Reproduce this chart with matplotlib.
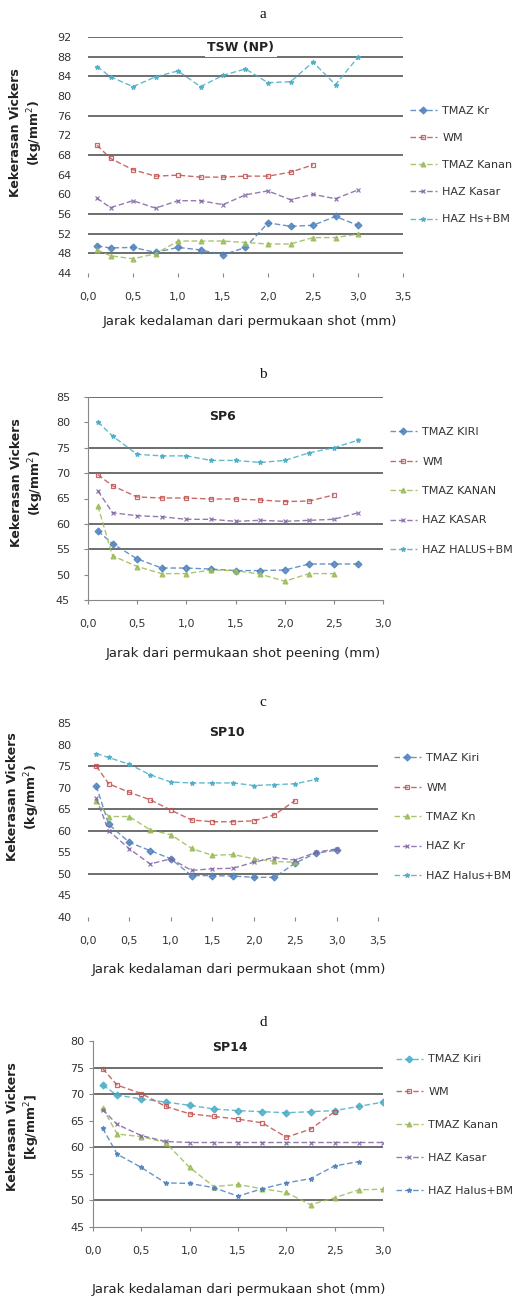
import matplotlib
matplotlib.use("Agg")
import matplotlib.pyplot as plt

# ---------------- data ----------------
x_full = [0.1, 0.25, 0.5, 0.75, 1.0, 1.25, 1.5, 1.75, 2.0, 2.25, 2.5, 2.75, 3.0]

# Panel a : TSW (NP)
a_labels = ["TMAZ Kr", "WM", "TMAZ Kanan", "HAZ Kasar", "HAZ Hs+BM"]
a_tmaz_kiri = [49.5, 49.1, 49.2, 48.2, 49.2, 48.7, 47.7, 49.2, 54.2, 53.5, 53.7, 55.5, 53.7]
a_wm = [70.0, 67.3, 65.0, 63.7, 63.9, 63.5, 63.5, 63.7, 63.7, 64.5, 66.0]
a_tmaz_kanan = [48.7, 47.5, 46.9, 47.9, 50.5, 50.5, 50.5, 50.2, 49.9, 49.9, 51.2, 51.2, 51.9]
a_haz_kasar = [59.2, 57.3, 58.7, 57.2, 58.7, 58.7, 57.9, 59.9, 60.7, 58.9, 60.0, 59.1, 60.9]
a_haz_halus = [86.0, 83.9, 81.9, 83.9, 85.1, 81.9, 84.2, 85.5, 82.7, 82.9, 86.9, 82.3, 87.9]

# Panel b : SP6
b_labels = ["TMAZ KIRI", "WM", "TMAZ KANAN", "HAZ KASAR", "HAZ HALUS+BM"]
b_tmaz_kiri = [58.6, 56.1, 53.1, 51.3, 51.3, 51.1, 50.8, 50.8, 50.9, 52.1, 52.1, 52.1]
b_wm = [69.7, 67.5, 65.3, 65.1, 65.1, 64.9, 64.9, 64.7, 64.4, 64.5, 65.7]
b_tmaz_kanan = [63.5, 53.7, 51.6, 50.2, 50.2, 50.9, 50.8, 50.1, 48.7, 50.2, 50.2]
b_haz_kasar = [66.5, 62.2, 61.6, 61.4, 60.9, 60.9, 60.5, 60.7, 60.5, 60.7, 60.9, 62.2]
b_haz_halus = [80.1, 77.3, 73.7, 73.4, 73.4, 72.5, 72.5, 72.1, 72.5, 74.0, 75.0, 76.5]

# Panel c : SP10
c_labels = ["TMAZ Kiri", "WM", "TMAZ Kn", "HAZ Kr", "HAZ Halus+BM"]
c_tmaz_kiri = [70.4, 61.5, 57.3, 55.4, 53.5, 49.6, 49.6, 49.5, 49.2, 49.2, 52.5, 54.8, 55.5]
c_wm = [75.0, 70.9, 68.9, 67.2, 64.8, 62.5, 62.1, 62.1, 62.3, 63.7, 67.0]
c_tmaz_kanan = [67.0, 63.3, 63.3, 60.2, 59.1, 55.9, 54.3, 54.5, 53.5, 52.9, 52.7]
c_haz_kasar = [67.5, 60.0, 55.8, 52.3, 53.5, 50.8, 51.2, 51.3, 52.7, 53.8, 53.2, 55.0, 55.8]
c_haz_halus = [77.9, 77.0, 75.4, 73.0, 71.3, 71.1, 71.1, 71.1, 70.5, 70.7, 70.9, 71.9]

# Panel d : SP14
d_labels = ["TMAZ Kiri", "WM", "TMAZ Kanan", "HAZ Kasar", "HAZ Halus+BM"]
d_tmaz_kiri = [71.7, 69.8, 69.1, 68.5, 67.9, 67.2, 66.9, 66.7, 66.5, 66.7, 66.9, 67.7, 68.5]
d_wm = [74.8, 71.7, 70.1, 67.7, 66.3, 65.8, 65.3, 64.6, 61.9, 63.4, 66.7]
d_tmaz_kanan = [67.4, 62.5, 62.0, 60.9, 56.2, 52.6, 53.0, 52.2, 51.5, 49.2, 50.5, 52.0, 52.1]
d_haz_kasar = [67.1, 64.3, 62.2, 61.1, 60.9, 60.9, 60.9, 60.9, 60.9, 60.9, 60.9, 60.9, 60.9]
d_haz_halus = [63.6, 58.7, 56.2, 53.3, 53.2, 52.4, 50.8, 52.2, 53.3, 54.1, 56.5, 57.3]

titles = ["TSW (NP)", "SP6", "SP10", "SP14"]
panel_letters = ["a", "b", "c", "d"]
xlabels = ["Jarak kedalaman dari permukaan shot (mm)",
           "Jarak dari permukaan shot peening (mm)",
           "Jarak kedalaman dari permukaan shot (mm)",
           "Jarak kedalaman dari permukaan shot (mm)"]
ylabels = ["Kekerasan Vickers\n(kg/mm$^2$)", "Kekerasan Vickers\n(kg/mm$^2$)",
           "Kekerasan Vickers\n(kg/mm$^2$)", "Kekerasan Vickers\n[kg/mm$^2$]"]
a_yticks = [44, 48, 52, 56, 60, 64, 68, 72, 76, 80, 84, 88, 92]
b_yticks = [45, 50, 55, 60, 65, 70, 75, 80, 85]
c_yticks = [40, 45, 50, 55, 60, 65, 70, 75, 80, 85]
d_yticks = [45, 50, 55, 60, 65, 70, 75, 80]
a_xticks = [0.0, 0.5, 1.0, 1.5, 2.0, 2.5, 3.0, 3.5]
b_xticks = [0.0, 0.5, 1.0, 1.5, 2.0, 2.5, 3.0]
c_xticks = [0.0, 0.5, 1.0, 1.5, 2.0, 2.5, 3.0, 3.5]
d_xticks = [0.0, 0.5, 1.0, 1.5, 2.0, 2.5, 3.0]

# ---------------- style ----------------
BLUE, RED, GREEN, PURPLE, CYAN = "#4F81BD", "#C0504D", "#9BBB59", "#8064A2", "#4BACC6"
markers = ["D", "s", "^", "x", "*"]
W, H = 532, 1302

panels = [
    dict(series=[a_tmaz_kiri, a_wm, a_tmaz_kanan, a_haz_kasar, a_haz_halus], labels=a_labels,
         colors=[BLUE, RED, GREEN, PURPLE, CYAN],
         yticks=a_yticks, xticks=a_xticks, grid=[92, 88, 84, 76, 68, 56, 52, 48],
         rect=(88, 403, 37, 273), spines=False, title_xy=(1.7, 89.8), ypad=12,
         ylab=(27, 133), xlab=(250, 322), letter_y=15,
         leg=(400, 165, 1.55)),
    dict(series=[b_tmaz_kiri, b_wm, b_tmaz_kanan, b_haz_kasar, b_haz_halus], labels=b_labels,
         colors=[BLUE, RED, GREEN, PURPLE, CYAN],
         yticks=b_yticks, xticks=b_xticks, grid=[85, 75, 70, 60, 55],
         rect=(88, 383, 397, 600), spines=True, title_xy=(1.37, 81.1), ypad=10,
         ylab=(28, 483), xlab=(243, 653), letter_y=375,
         leg=(380, 491, 1.75)),
    dict(series=[c_tmaz_kiri, c_wm, c_tmaz_kanan, c_haz_kasar, c_haz_halus], labels=c_labels,
         colors=[BLUE, RED, GREEN, PURPLE, CYAN],
         yticks=c_yticks, xticks=c_xticks, grid=[75, 65, 60, 50],
         rect=(88, 378, 723, 917), spines=False, title_xy=(1.68, 82.7), ypad=12,
         ylab=(24, 797), xlab=(239, 970), letter_y=703,
         leg=(384, 817, 1.75)),
    dict(series=[d_tmaz_kiri, d_wm, d_tmaz_kanan, d_haz_kasar, d_haz_halus], labels=d_labels,
         colors=[CYAN, RED, GREEN, PURPLE, BLUE],
         yticks=d_yticks, xticks=d_xticks, grid=[75, 70, 60, 50],
         rect=(93, 383, 1041, 1227), spines=True, title_xy=(1.42, 78.7), ypad=3,
         ylab=(24, 1127), xlab=(239, 1290), letter_y=1023,
         leg=(386, 1125, 2.05)),
]

plt.rcParams["font.family"] = ["DejaVu Sans"]
fig = plt.figure(figsize=(W / 100, H / 100), dpi=100)
fig.patch.set_facecolor("white")

def fmt(v):
    return ("%.1f" % v).replace(".", ",")

for i, p in enumerate(panels):
    x0, x1, ytop, ybot = p["rect"]
    ax = fig.add_axes([x0 / W, 1 - ybot / H, (x1 - x0) / W, (ybot - ytop) / H])
    ax.set_xlim(p["xticks"][0], p["xticks"][-1])
    ax.set_ylim(p["yticks"][0], p["yticks"][-1])
    for g in p["grid"]:
        ax.axhline(g, color="#555555", lw=1.2, zorder=1)
    for s, lab, col, mk in zip(p["series"], p["labels"], p["colors"], markers):
        ax.plot(x_full[:len(s)], s, linestyle=(0, (4, 2)), color=col, lw=1.0,
                marker=mk, ms=3.5, mfc="none" if mk == "s" else col, mec=col,
                mew=0.9, alpha=0.85, zorder=3, label=lab)
    ax.set_xticks(p["xticks"])
    ax.set_xticklabels([fmt(v) for v in p["xticks"]], fontsize=8, color="#333333")
    ax.set_yticks(p["yticks"])
    ax.set_yticklabels([str(v) for v in p["yticks"]], fontsize=8, color="#333333")
    ax.tick_params(axis="x", length=3, width=0.8, color="#888888", pad=11)
    ax.tick_params(axis="y", length=3, width=0.8, color="#888888", pad=p["ypad"])
    for side in ["top", "right"]:
        ax.spines[side].set_visible(False)
    for side in ["left", "bottom"]:
        ax.spines[side].set_visible(p["spines"])
        ax.spines[side].set_color("#888888")
    if not p["spines"]:
        ax.tick_params(axis="y", length=0)
    ax.text(p["title_xy"][0], p["title_xy"][1], titles[i], ha="center", va="center",
            fontsize=9, fontweight="bold", color="#222222", zorder=4,
            bbox=dict(facecolor="white", edgecolor="none", pad=2) if i == 0 else None)
    # legend
    lx, ly, sp = p["leg"]
    ax.legend(loc="center left", bbox_to_anchor=(lx / W, 1 - ly / H),
              bbox_transform=fig.transFigure, frameon=False, fontsize=8,
              handlelength=2.4, labelspacing=sp, handletextpad=0.5,
              labelcolor="#333333")
    # axis labels
    fig.text(p["ylab"][0] / W, 1 - p["ylab"][1] / H, ylabels[i], rotation=90,
             ha="center", va="center", fontsize=9, fontweight="bold",
             color="#222222", linespacing=1.3, multialignment="center")
    fig.text(p["xlab"][0] / W, 1 - p["xlab"][1] / H, xlabels[i], ha="center",
             va="center", fontsize=9.5, color="#222222")
    fig.text(263 / W, 1 - p["letter_y"] / H, panel_letters[i], ha="center",
             va="center", fontsize=11, family="Liberation Serif", color="#111111")

fig.savefig("out.png", dpi=100, facecolor="white")
